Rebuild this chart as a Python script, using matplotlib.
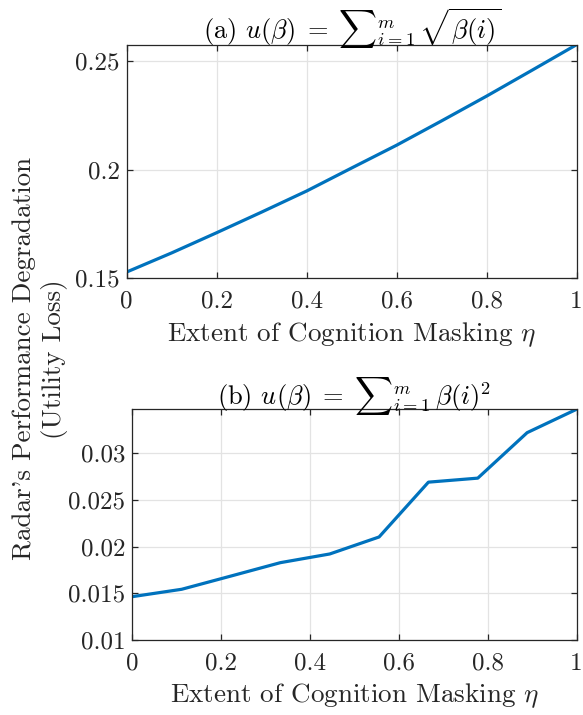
import numpy as np
import matplotlib
matplotlib.use("Agg")
import matplotlib.pyplot as plt

plt.rcParams["font.family"] = "serif"
plt.rcParams["font.serif"] = ["cmr10"]
plt.rcParams["mathtext.fontset"] = "cm"
plt.rcParams["axes.unicode_minus"] = False
plt.rcParams["axes.formatter.use_mathtext"] = True

# (a) square-root utility
eta_a = [0.0, 0.1, 0.2, 0.3, 0.4, 0.5, 0.6, 0.7, 0.8, 0.9, 1.0]
loss_a = [0.1529, 0.1617, 0.1710, 0.1805, 0.1902, 0.2008, 0.2113, 0.2225, 0.2339, 0.2457, 0.2576]

# (b) quadratic utility
eta_b = [0/9, 1/9, 2/9, 3/9, 4/9, 5/9, 6/9, 7/9, 8/9, 9/9]
loss_b = [0.01464, 0.01543, 0.01685, 0.01828, 0.01921, 0.02103, 0.02690, 0.02733, 0.03220, 0.03470]

xticks = [0, 0.2, 0.4, 0.6, 0.8, 1]
xticklabels = ["0", "0.2", "0.4", "0.6", "0.8", "1"]
yticks_a = [0.15, 0.2, 0.25]
yticklabels_a = ["0.15", "0.2", "0.25"]
yticks_b = [0.01, 0.015, 0.02, 0.025, 0.03]
yticklabels_b = ["0.01", "0.015", "0.02", "0.025", "0.03"]

blue = "#0072BD"
W, H = 583, 715
right = 576.5

fig = plt.figure(figsize=(W / 100, H / 100), dpi=100)
ax1 = fig.add_axes([126.7 / W, 1 - 278.3 / H, (right - 126.7) / W, (278.3 - 44.7) / H])
ax2 = fig.add_axes([132.3 / W, 1 - 640 / H, (right - 132.3) / W, (640 - 409.3) / H])

def style(ax):
    ax.grid(True, color="#e3e3e3", linewidth=0.9)
    ax.set_axisbelow(True)
    for sp in ax.spines.values():
        sp.set_color("#262626")
        sp.set_linewidth(0.9)
    ax.tick_params(direction="in", top=True, right=True, length=4,
                   width=0.9, color="#262626", labelsize=18, labelcolor="#262626")
    ax.tick_params(axis="x", pad=9)
    ax.tick_params(axis="y", pad=5)
    ax.set_xlim(0, 1)
    ax.set_xticks(xticks)
    ax.set_xticklabels(xticklabels)
    ax.set_xlabel(r"Extent of Cognition Masking $\eta$", fontsize=19.5, color="#262626", labelpad=5)

ax1.plot(eta_a, loss_a, color=blue, linewidth=2.3, solid_capstyle="butt")
style(ax1)
ax1.set_ylim(0.15, max(loss_a))
ax1.set_yticks(yticks_a)
ax1.set_yticklabels(yticklabels_a)
ax1.set_title(r"(a) $u(\beta)\;=\;{\sum}_{i=1}^{m}\,\sqrt{\beta(i)}$", fontsize=19, pad=4)

ax2.plot(eta_b, loss_b, color=blue, linewidth=2.3, solid_capstyle="butt")
style(ax2)
ax2.set_ylim(0.01, max(loss_b))
ax2.set_yticks(yticks_b)
ax2.set_yticklabels(yticklabels_b)
ax2.set_title(r"(b) $u(\beta)\;=\;{\sum}_{i=1}^{m}\,\beta(i)^2$", fontsize=19, pad=3)

fig.text(40 / W, 0.498, "Radar's Performance Degradation\n(Utility Loss)",
         rotation=90, ha="center", va="center", fontsize=19.5, color="#262626",
         multialignment="center", linespacing=1.25)

fig.savefig("out.png", dpi=100)
